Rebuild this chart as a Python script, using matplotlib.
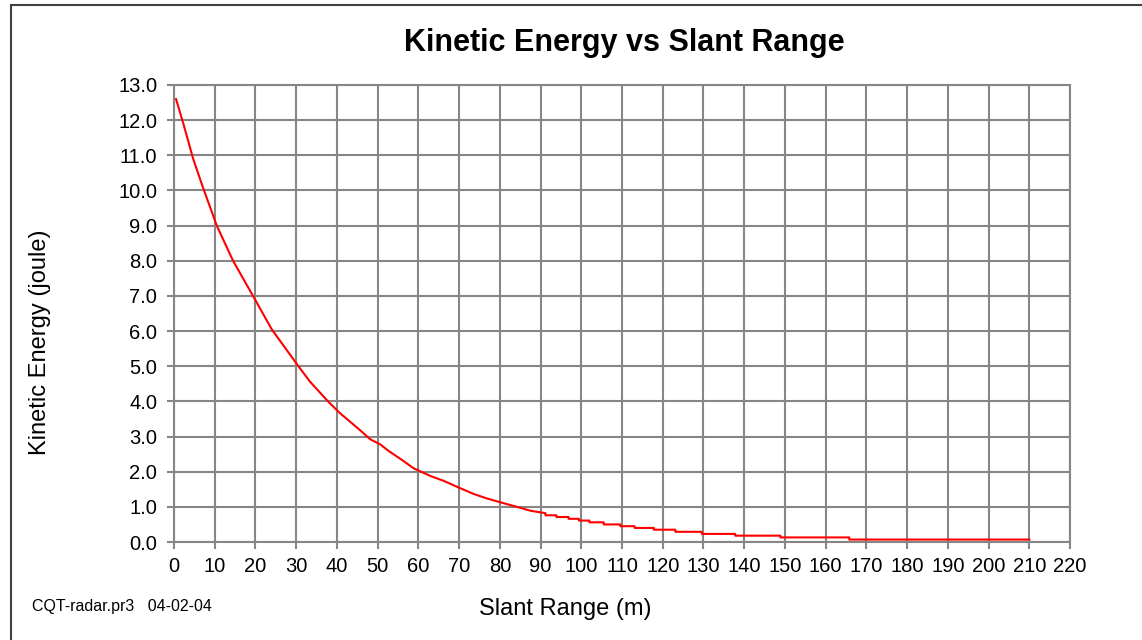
import numpy as np
import matplotlib
matplotlib.use("Agg")
import matplotlib.pyplot as plt
from matplotlib.patches import Rectangle

plt.rcParams['font.family'] = ['Liberation Sans', 'DejaVu Sans']

# smooth part of the curve
range_m = [0.5, 2.3, 4.7, 7.1, 10.5, 14.5, 19.4, 24.0, 30.3, 33.4, 37.9,
           40.8, 45.5, 48.2, 50.6, 52.7, 56.4, 58.8, 62.9, 66.2, 70.3, 73.5,
           76.8, 80.1, 84.2, 87.5, 91.2]
energy_j = [12.6, 11.9, 10.9, 10.09, 9.0, 8.0, 7.0, 6.05, 5.04, 4.56, 3.99,
            3.66, 3.20, 2.92, 2.78, 2.59, 2.30, 2.10, 1.88, 1.74, 1.53, 1.37,
            1.24, 1.13, 1.00, 0.89, 0.82]

# quantised tail (step start, level)
step_range = [91.2, 93.9, 96.9, 99.4, 102.0, 105.5, 109.6, 113.1, 117.8, 123.1,
              129.6, 137.8, 148.9, 165.8, 210.0]
step_energy = [0.76, 0.71, 0.66, 0.61, 0.56, 0.50, 0.45, 0.40, 0.35, 0.29,
               0.23, 0.18, 0.13, 0.07, 0.07]

x_ticks = list(range(0, 221, 10))
y_ticks = list(range(0, 14))

# expand the tail into steps
sx = np.repeat(step_range, 2)[1:]
sy = np.repeat(step_energy, 2)[:-1]
xs = np.concatenate([range_m, sx])
ys = np.concatenate([energy_j, sy])

W, H = 1142, 640
fig = plt.figure(figsize=(W / 100, H / 100), dpi=100)
ax = fig.add_axes([174 / W, 1 - 542 / H, (1070 - 174) / W, (542 - 85) / H])

grey = '#868686'
ax.plot(xs, ys, color='#ff0000', lw=1.5, zorder=3)

ax.set_xlim(0, 220)
ax.set_ylim(0, 13)
ax.set_xticks(x_ticks)
ax.set_yticks(y_ticks)
ax.set_yticklabels([f'{v:.1f}' for v in y_ticks])
ax.grid(True, color=grey, lw=1.5)
ax.set_axisbelow(True)
for s in ax.spines.values():
    s.set_color(grey)
    s.set_linewidth(1.5)
ax.tick_params(axis='both', colors=grey, length=5, width=1.5, labelsize=14.5,
               labelcolor='black')
ax.tick_params(axis='y', pad=7)
ax.tick_params(axis='x', pad=5.5)

fig.text(624 / W, 1 - 43 / H, 'Kinetic Energy vs Slant Range', ha='center', va='center',
         fontsize=22, fontweight='bold')
fig.text(40 / W, 1 - 342 / H, 'Kinetic Energy (joule)', rotation=90, ha='center',
         va='center', fontsize=17)
fig.text(565 / W, 1 - 609 / H, 'Slant Range (m)', ha='center', va='center', fontsize=17)
fig.text(32 / W, 1 - 606 / H, 'CQT-radar.pr3   04-02-04', ha='left', va='center',
         fontsize=11.5)

# screenshot frame
fig.add_artist(Rectangle((11 / W, -0.1), 2, 1.1 - 5.5 / H, transform=fig.transFigure,
                         fill=False, edgecolor='#404040', lw=1.5))

fig.savefig('out.png', dpi=100)
